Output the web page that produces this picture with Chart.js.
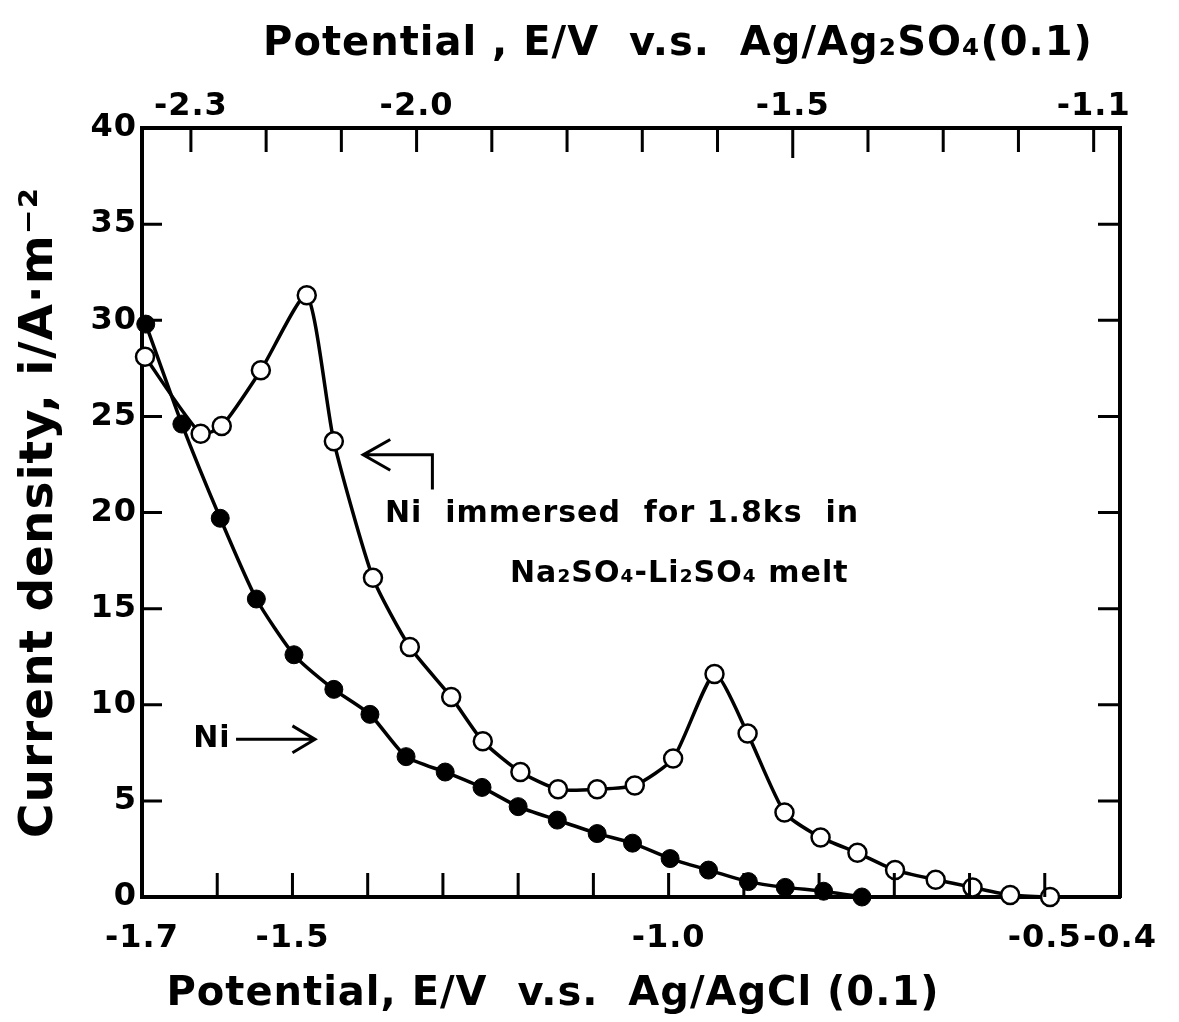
<!DOCTYPE html>
<html>
<head>
<meta charset="utf-8">
<script src="https://cdn.jsdelivr.net/npm/chart.js@4.4.1/dist/chart.umd.min.js"></script>
<style>
html, body { margin: 0; padding: 0; background: #fff; }
#wrap { position: relative; width: 1179px; height: 1022px; }
</style>
</head>
<body>
<div id="wrap"><canvas id="chart"></canvas></div>
<script>
// open circles: Ni immersed 1.8 ks in Na2SO4-Li2SO4 melt
const immersedV = [-1.696, -1.622, -1.594, -1.542, -1.481, -1.445, -1.393, -1.344, -1.289, -1.247,
                   -1.197, -1.147, -1.095, -1.045, -0.994, -0.939, -0.895, -0.846, -0.798, -0.749,
                   -0.699, -0.645, -0.596, -0.546, -0.493];
const immersedI = [28.1, 24.1, 24.5, 27.4, 31.3, 23.7, 16.6, 13.0, 10.4, 8.1,
                   6.5, 5.6, 5.6, 5.8, 7.2, 11.6, 8.5, 4.4, 3.1, 2.3,
                   1.4, 0.9, 0.5, 0.1, 0.0];

// filled circles: bare Ni
const niV = [-1.695, -1.647, -1.596, -1.548, -1.498, -1.445, -1.397, -1.349, -1.297, -1.248,
             -1.200, -1.148, -1.095, -1.048, -0.998, -0.947, -0.894, -0.845, -0.794, -0.743];
const niI = [29.8, 24.6, 19.7, 15.5, 12.6, 10.8, 9.5, 7.3, 6.5, 5.7,
             4.7, 4.0, 3.3, 2.8, 2.0, 1.4, 0.8, 0.5, 0.3, 0.0];

const bottomTicks  = [-1.7, -1.6, -1.5, -1.4, -1.3, -1.2, -1.1, -1.0, -0.9, -0.8, -0.7, -0.6, -0.5, -0.4];
const bottomLabels = ['-1.7', '-1.5', '-1.0', '-0.5', '-0.4'];
const topTicks     = [-2.3, -2.2, -2.1, -2.0, -1.9, -1.8, -1.7, -1.6, -1.5, -1.4, -1.3, -1.2, -1.1];
const topLabels    = ['-2.3', '-2.0', '-1.5', '-1.1'];
const yTicks       = [0, 5, 10, 15, 20, 25, 30, 35, 40];

const X_MIN = -1.7, X_MAX = -0.4;
const REF_SHIFT = 0.665; // Ag/Ag2SO4 reads this much lower than Ag/AgCl
const FONT = '"DejaVu Sans", sans-serif';

const fmt = v => (Math.round(v * 10) / 10).toFixed(1);

const toPts = (xs, ys) => xs.map((x, i) => ({ x, y: ys[i] }));
const setTicks = vals => s => { s.ticks = vals.map(v => ({ value: v })); };

// the scanned figure is slightly letter-spaced
const spacing = {
    id: 'spacing',
    beforeDraw(chart) { chart.ctx.letterSpacing = '1px'; },
    afterDraw(chart) { chart.ctx.letterSpacing = '0px'; }
};

// tick marks point into the plot, so draw them ourselves
const inwardTicks = {
    id: 'inwardTicks',
    afterDraw(chart) {
        const { ctx, chartArea: a, scales } = chart;
        ctx.save();
        ctx.strokeStyle = '#000';
        ctx.lineWidth = 3;
        ctx.beginPath();
        scales.x.ticks.forEach(t => {
            const px = scales.x.getPixelForValue(t.value);
            ctx.moveTo(px, a.bottom); ctx.lineTo(px, a.bottom - 24);
        });
        scales.x2.ticks.forEach(t => {
            const px = scales.x2.getPixelForValue(t.value);
            const len = fmt(t.value) === '-1.5' ? 30 : 24;
            ctx.moveTo(px, a.top); ctx.lineTo(px, a.top + len);
        });
        scales.y.ticks.forEach(t => {
            const py = scales.y.getPixelForValue(t.value);
            ctx.moveTo(a.left, py); ctx.lineTo(a.left + 20, py);
            ctx.moveTo(a.right, py); ctx.lineTo(a.right - 22, py);
        });
        ctx.stroke();
        ctx.restore();
    }
};

// labels, arrows and the two x titles
const notes = {
    id: 'notes',
    afterDraw(chart) {
        const { ctx, scales: { x, y } } = chart;
        const X = v => x.getPixelForValue(v), Y = v => y.getPixelForValue(v);
        ctx.save();
        ctx.fillStyle = '#000';
        ctx.strokeStyle = '#000';
        ctx.textBaseline = 'middle';
        ctx.textAlign = 'left';

        ctx.font = 'bold 30px ' + FONT;
        ctx.letterSpacing = '1px';
        ctx.fillText('Ni  immersed  for 1.8ks  in', X(-1.377), Y(19.9));
        ctx.fillText('Na\u2082SO\u2084-Li\u2082SO\u2084 melt', X(-1.211), Y(16.8));
        ctx.fillText('Ni', X(-1.632), Y(8.2));

        ctx.lineWidth = 3;
        ctx.beginPath();
        // bracket arrow pointing at the open-circle curve
        ctx.moveTo(X(-1.314), Y(21.2)); ctx.lineTo(X(-1.314), Y(23.0)); ctx.lineTo(X(-1.406), Y(23.0));
        ctx.moveTo(X(-1.370), Y(23.8)); ctx.lineTo(X(-1.406), Y(23.0)); ctx.lineTo(X(-1.370), Y(22.2));
        // arrow pointing at the filled-circle curve
        ctx.moveTo(X(-1.575), Y(8.2)); ctx.lineTo(X(-1.470), Y(8.2));
        ctx.moveTo(X(-1.500), Y(8.9)); ctx.lineTo(X(-1.470), Y(8.2)); ctx.lineTo(X(-1.500), Y(7.5));
        ctx.stroke();

        ctx.font = 'bold 40px ' + FONT;
        ctx.letterSpacing = '1px';
        ctx.textAlign = 'center';
        ctx.fillText('Potential , E/V  v.s.  Ag/Ag\u2082SO\u2084(0.1)', 678, 45);
        ctx.fillText('Potential, E/V  v.s.  Ag/AgCl (0.1)', 553, 995);
        ctx.restore();
    }
};

const tickFont = { family: FONT, size: 32, weight: 'bold' };
const frame = { display: true, color: '#000', width: 4 };

new Chart(document.getElementById('chart'), {
    type: 'scatter',
    data: {
        datasets: [
            {
                label: 'Ni immersed for 1.8ks in Na2SO4-Li2SO4 melt',
                data: toPts(immersedV, immersedI),
                showLine: true,
                borderColor: '#000',
                borderWidth: 3.5,
                tension: 0.2,
                pointRadius: 9,
                pointBackgroundColor: '#fff',
                pointBorderColor: '#000',
                pointBorderWidth: 2.5,
                clip: false,
                order: 1
            },
            {
                label: 'Ni',
                data: toPts(niV, niI),
                showLine: true,
                borderColor: '#000',
                borderWidth: 3.5,
                tension: 0.2,
                pointRadius: 9,
                pointBackgroundColor: '#000',
                pointBorderColor: '#000',
                pointBorderWidth: 1,
                clip: false,
                order: 2
            }
        ]
    },
    options: {
        responsive: true,
        maintainAspectRatio: false,
        animation: false,
        layout: { padding: 0 },
        plugins: {
            legend: { display: false },
            tooltip: { enabled: false }
        },
        scales: {
            x: {
                type: 'linear', position: 'bottom', min: X_MIN, max: X_MAX,
                afterBuildTicks: setTicks(bottomTicks),
                afterFit: s => { s.height = 125; },
                grid: { display: false, drawTicks: false },
                border: frame,
                ticks: {
                    color: '#000', font: tickFont, padding: 22, autoSkip: false, maxRotation: 0,
                    callback: v => bottomLabels.includes(fmt(v)) ? fmt(v) : ''
                }
            },
            x2: {
                type: 'linear', position: 'top', min: X_MIN - REF_SHIFT, max: X_MAX - REF_SHIFT,
                afterBuildTicks: setTicks(topTicks),
                afterFit: s => { s.height = 128; },
                grid: { display: false, drawTicks: false },
                border: frame,
                ticks: {
                    color: '#000', font: tickFont, padding: 2, autoSkip: false, maxRotation: 0,
                    callback: v => topLabels.includes(fmt(v)) ? fmt(v) : ''
                }
            },
            y: {
                type: 'linear', position: 'left', min: 0, max: 40,
                afterBuildTicks: setTicks(yTicks),
                afterFit: s => { s.width = 142; },
                grid: { display: false, drawTicks: false },
                border: frame,
                ticks: { color: '#000', font: tickFont, padding: 5 },
                title: {
                    display: true,
                    text: 'Current density, i/A\u00b7m\u207b\u00b2',
                    color: '#000',
                    font: { family: FONT, size: 47, weight: 'bold' },
                    padding: { top: 12 }
                }
            },
            y2: {
                type: 'linear', position: 'right', min: 0, max: 40,
                afterBuildTicks: setTicks(yTicks),
                afterFit: s => { s.width = 59; },
                grid: { display: false, drawTicks: false },
                border: frame,
                ticks: { display: false }
            }
        }
    },
    plugins: [spacing, inwardTicks, notes]
});
</script>
</body>
</html>
